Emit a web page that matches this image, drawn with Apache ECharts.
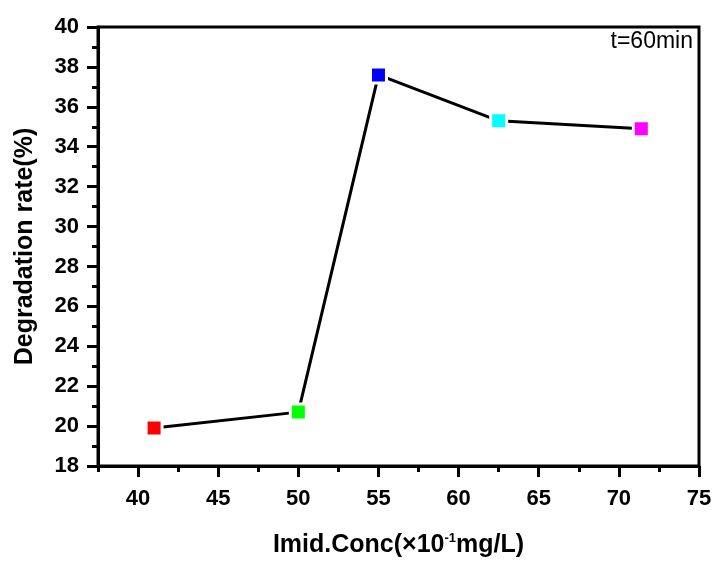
<!DOCTYPE html>
<html>
<head>
    <meta charset="utf-8">
    <title>ECharts</title>
    <script src="https://cdn.jsdelivr.net/npm/echarts@6/dist/echarts.min.js"></script>
</head>
<body style="margin:0;">
<div id="main" style="width: 715px;height:563px;"></div>
<script type="text/javascript">
    var myChart = echarts.init(document.getElementById('main'));

    // data
    var conc = [41, 50, 55, 62.5, 71.4];
    var rate = [19.9, 20.7, 37.6, 35.3, 34.9];
    var pointColors = ['#ff0000', '#00ff00', '#0000ff', '#00ffff', '#ff00ff'];
    var xMajorTicks = [40, 45, 50, 55, 60, 65, 70, 75];
    var xMinorTicks = [37.5, 42.5, 47.5, 52.5, 57.5, 62.5, 67.5, 72.5];

    var font = '"Liberation Sans", Arial, sans-serif';

    var points = [];
    for (var i = 0; i < conc.length; i++) {
        points.push({
            value: [conc[i], rate[i]],
            itemStyle: {color: pointColors[i]}
        });
    }

    var option = {
        animation: false,
        grid: {
            left: 98, right: 16, top: 27, bottom: 94,
            show: true, borderColor: '#000', borderWidth: 3
        },
        graphic: [{
            type: 'text',
            right: 22, top: 30,
            style: {text: 't=60min', font: '23px ' + font, fill: '#000'}
        }],
        xAxis: [{
            type: 'value',
            min: 37.5, max: 75,
            splitLine: {show: false},
            axisLine: {lineStyle: {color: '#000', width: 3}},
            axisTick: {customValues: xMajorTicks, length: 11, lineStyle: {width: 3}},
            axisLabel: {
                customValues: xMajorTicks, margin: 22,
                color: '#000', fontSize: 22, fontWeight: 'bold', fontFamily: font
            },
            name: '{a|Imid.Conc(×10}{s|-1}{a|mg/L)}',
            nameLocation: 'middle',
            nameGap: 66,
            nameTextStyle: {
                rich: {
                    a: {fontSize: 25, fontWeight: 'bold', fontFamily: font, color: '#000'},
                    s: {fontSize: 13, fontWeight: 'bold', fontFamily: font, color: '#000', padding: [0, 0, 14, 0]}
                }
            }
        }, {
            type: 'value',
            min: 37.5, max: 75,
            position: 'bottom',
            splitLine: {show: false},
            axisLine: {show: false},
            axisTick: {customValues: xMinorTicks, length: 6, lineStyle: {width: 3, color: '#000'}},
            axisLabel: {show: false}
        }],
        yAxis: {
            type: 'value',
            min: 18, max: 40, interval: 2,
            splitLine: {show: false},
            axisLine: {show: true, lineStyle: {color: '#000', width: 3}},
            axisTick: {show: true, length: 11, lineStyle: {width: 3}},
            minorTick: {show: true, splitNumber: 2, length: 6, lineStyle: {width: 3, color: '#000'}},
            axisLabel: {margin: 19, color: '#000', fontSize: 22, fontWeight: 'bold', fontFamily: font},
            name: 'Degradation rate(%)',
            nameLocation: 'middle',
            nameGap: 60,
            nameTextStyle: {fontSize: 25, fontWeight: 'bold', fontFamily: font, color: '#000'}
        },
        series: [{
            type: 'line',
            data: points,
            symbol: 'rect',
            symbolSize: 16,
            lineStyle: {color: '#000', width: 3},
            itemStyle: {borderColor: '#fff', borderWidth: 3},
            z: 3
        }]
    };

    myChart.setOption(option);
</script>
</body>
</html>
